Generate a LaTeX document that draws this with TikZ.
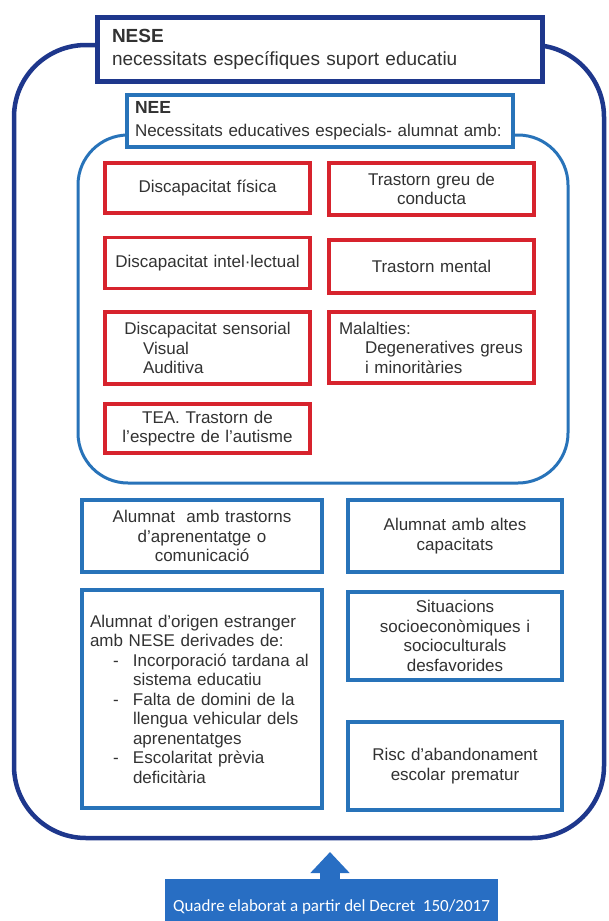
\documentclass[tikz,border=0pt]{standalone}
\usepackage{fontspec}
\setmainfont{Liberation Sans}
\newfontfamily\calibrifont{Carlito}
\usetikzlibrary{arrows.meta}

\definecolor{navy}{RGB}{30,55,140}
\definecolor{midblue}{RGB}{40,115,185}
\definecolor{boxred}{RGB}{215,35,45}
\definecolor{txtgray}{RGB}{50,50,50}
\definecolor{srcblue}{RGB}{40,110,195}

\tikzset{
  bodyfont/.style={font=\fontsize{17}{19.5}\selectfont},
  redbox/.style={draw=boxred, line width=3.5pt, fill=white, text=txtgray, bodyfont,
    minimum width=205pt, text width=193pt, inner xsep=6pt, align=center},
  bluebox/.style={draw=midblue, line width=4pt, fill=white, text=txtgray, bodyfont,
    inner xsep=8pt, align=center}
}
\newcommand{\itemdash}{\hspace*{23pt}\makebox[20pt][l]{-}}
\newcommand{\itemgap}{\hspace*{43pt}}

\begin{document}
\begin{tikzpicture}[x=1pt,y=-1pt]
	\useasboundingbox (0,0) rectangle (608,921);
	
	% outer and inner containers
	\draw[navy, line width=4.5pt, rounded corners=72pt] (14,45) rectangle (604,838);
	\draw[midblue, line width=3pt, rounded corners=50pt] (78,135) rectangle (568,483);
	
	% headers
	\node[draw=navy, line width=5pt, fill=white, text=txtgray, align=left,
	      minimum width=445pt, minimum height=64pt, text width=415pt, inner xsep=15pt,
	      font=\fontsize{19}{23}\selectfont] (nese) at (319.5,49)
	      {{\bfseries NESE}\\necessitats específiques suport educatiu};
	\node[draw=midblue, line width=4pt, fill=white, text=txtgray, align=left,
	      minimum width=386pt, minimum height=52pt, text width=370pt, inner xsep=8pt,
	      font=\fontsize{17}{23}\selectfont] (nee) at (320,121)
	      {{\bfseries\fontsize{17.5}{23}\selectfont NEE}\\Necessitats educatives especials- alumnat amb:};
	
	% NEE boxes
	\node[redbox, minimum height=50pt] (fisica) at (207.5,188) {Discapacitat física};
	\node[redbox, minimum height=52pt] (conducta) at (431.5,189) {Trastorn greu de\\conducta};
	\node[redbox, minimum height=51pt] (intel) at (207.5,263) {Discapacitat intel·lectual};
	\node[redbox, minimum height=53pt] (mental) at (431.5,266.5) {Trastorn mental};
	\node[redbox, minimum height=72pt, align=left] (sensorial) at (207.5,348)
	      {\makebox[\linewidth]{Discapacitat sensorial}\\\hspace*{32pt}Visual\\\hspace*{32pt}Auditiva};
	\node[redbox, minimum height=71pt, align=left, inner xsep=10pt, text width=185pt] (malalties) at (431.5,347.5)
	      {Malalties:\\\hspace*{26pt}Degeneratives greus\\\hspace*{26pt}i minoritàries};
	\node[redbox, minimum height=49pt] (tea) at (207.5,428.5) {TEA. Trastorn de\\l’espectre de l’autisme};
	
	% other NESE boxes
	\node[bluebox, minimum width=240pt, text width=224pt, minimum height=72pt] (trastorns) at (202,536)
	      {Alumnat~ amb trastorns\\d’aprenentatge o\\comunicació};
	\node[bluebox, minimum width=214pt, text width=198pt, minimum height=72pt] (altes) at (455,536)
	      {Alumnat amb altes\\capacitats};
	\node[bluebox, minimum width=240pt, text width=224pt, minimum height=218pt, align=left] (origen) at (202,699)
	      {Alumnat d’origen estranger\\amb NESE derivades de:\\
	       \itemdash Incorporació tardana al\\\itemgap sistema educatiu\\
	       \itemdash Falta de domini de la\\\itemgap llengua vehicular dels\\\itemgap aprenentatges\\
	       \itemdash Escolaritat prèvia\\\itemgap deficitària};
	\node[bluebox, minimum width=214pt, text width=198pt, minimum height=88pt] (socio) at (455,636)
	      {Situacions\\socioeconòmiques i\\socioculturals\\desfavorides};
	\node[bluebox, minimum width=214pt, text width=198pt, minimum height=88pt] (risc) at (455,766)
	      {Risc d’abandonament\\escolar prematur};
	
	% source
	\node[fill=srcblue, text=white, minimum width=333pt, minimum height=56pt,
	      font=\calibrifont\fontsize{17}{19}\selectfont] (source) at (331.5,907)
	      {Quadre elaborat a partir del Decret~ 150/2017};
	\coordinate (tip) at (330,852);
	\draw[srcblue, line width=20pt, -{Triangle[width=38pt,length=21pt]}] (tip |- source.north) -- (tip);
\end{tikzpicture}
\end{document}
